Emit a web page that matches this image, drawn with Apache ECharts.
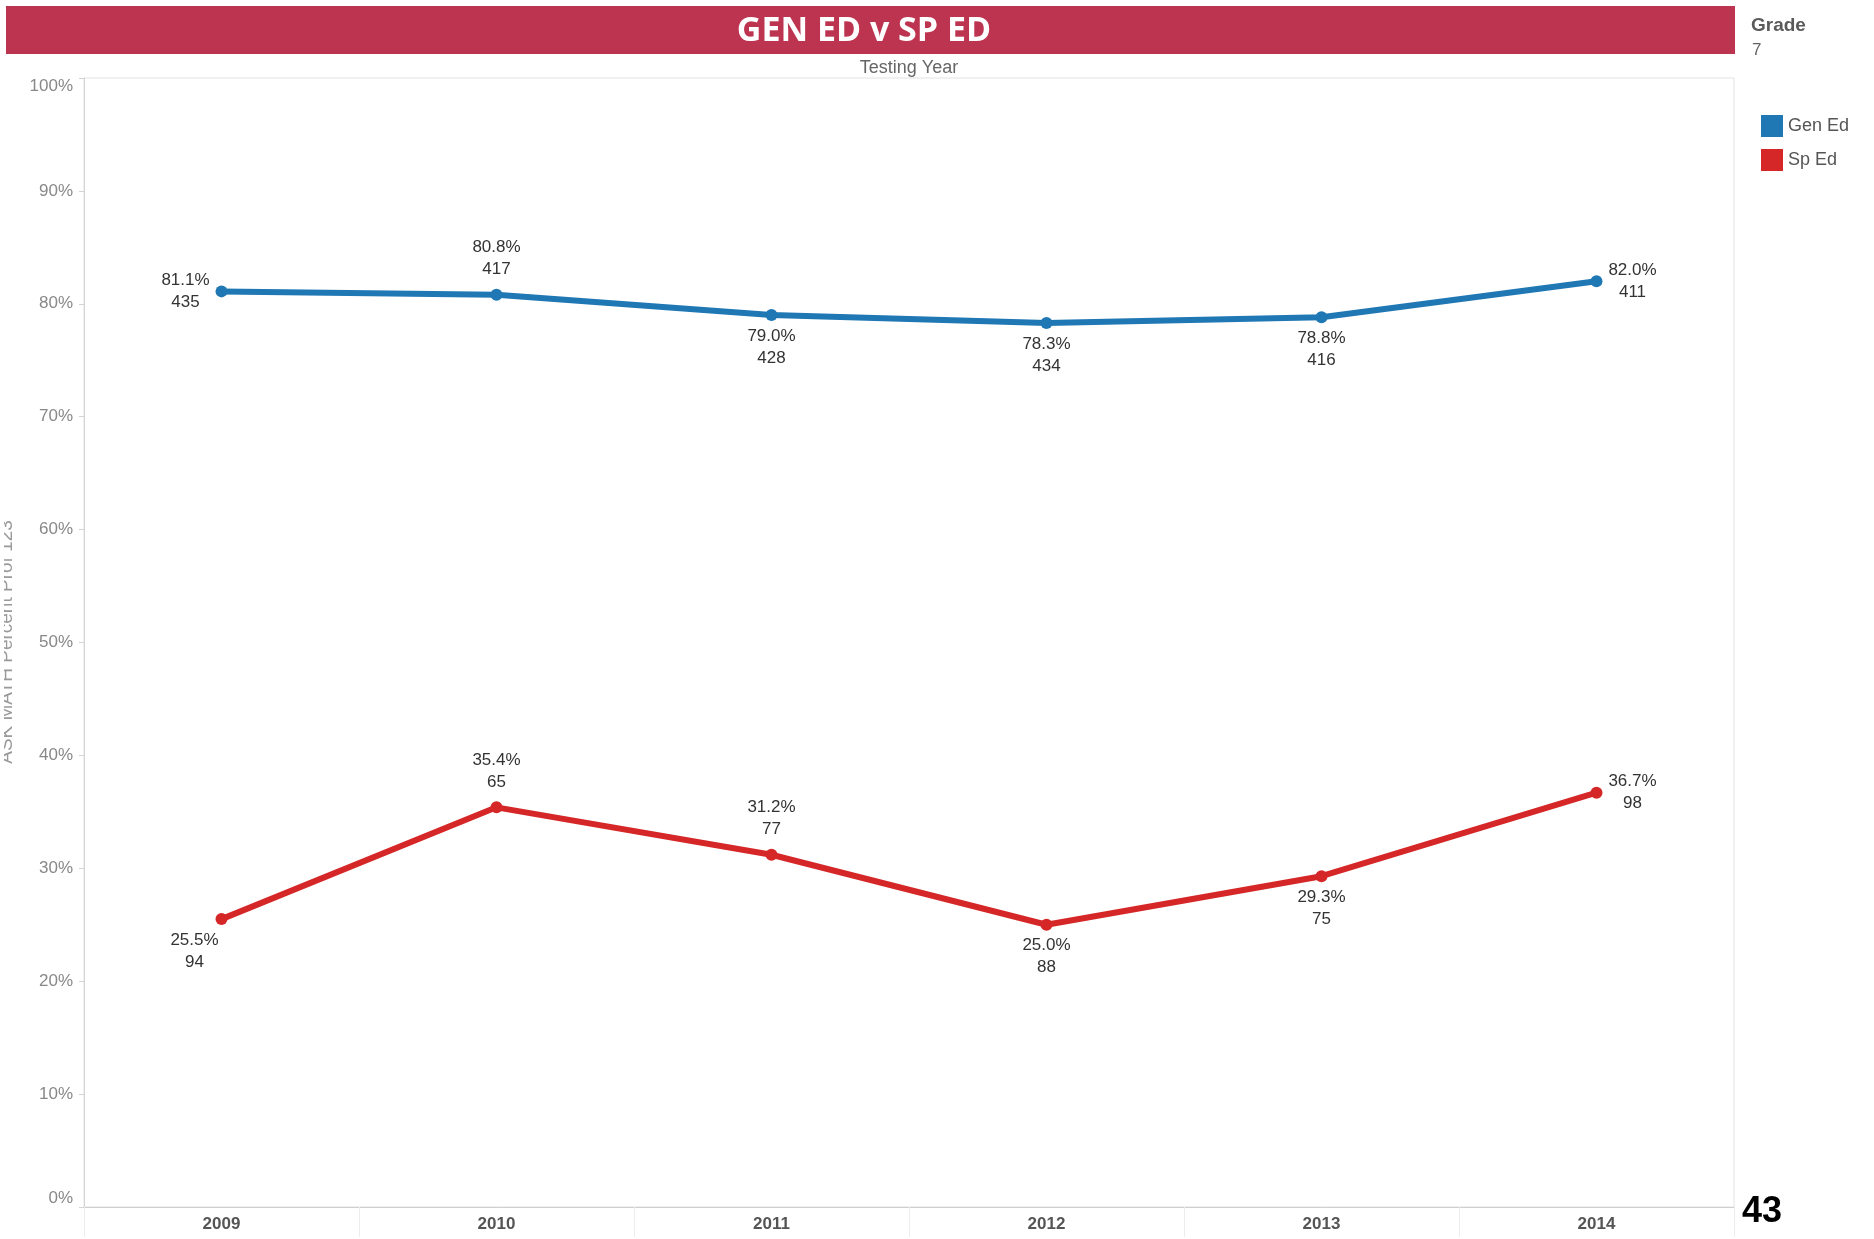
<!DOCTYPE html>
<html>
<head>
<meta charset="utf-8">
<script src="https://cdn.jsdelivr.net/npm/echarts@6/dist/echarts.min.js"></script>
<style>
html,body{margin:0;padding:0;background:#fff;}
#chart{width:1874px;height:1239px;}
</style>
</head>
<body>
<div id="chart"></div>
<script>
// ---- data ----
const years = ['2009', '2010', '2011', '2012', '2013', '2014'];
const genEdPct = [81.1, 80.8, 79.0, 78.3, 78.8, 82.0];
const genEdN = [435, 417, 428, 434, 416, 411];
const spEdPct = [25.5, 35.4, 31.2, 25.0, 29.3, 36.7];
const spEdN = [94, 65, 77, 88, 75, 98];
const yTickValues = [0, 10, 20, 30, 40, 50, 60, 70, 80, 90, 100];
const seriesNames = ['Gen Ed', 'Sp Ed'];

// ---- label placement (styling) ----
const genLabelPlace = ['left', 'top', 'bottom', 'bottom', 'bottom', 'right'];
const spLabelPlace = ['bottomleft', 'top', 'top', 'bottom', 'bottom', 'right'];

const FONT = 'Arial, "Liberation Sans", sans-serif';

function labelFor(place) {
  const base = {show: true, color: '#333', fontSize: 17, lineHeight: 22, fontFamily: FONT, align: 'center'};
  if (place === 'left') return Object.assign(base, {position: 'left', distance: 30, verticalAlign: 'middle'});
  if (place === 'right') return Object.assign(base, {position: 'right', distance: 30, verticalAlign: 'middle'});
  if (place === 'top') return Object.assign(base, {position: 'top', distance: 8});
  if (place === 'bottomleft') return Object.assign(base, {position: 'bottom', distance: 4, offset: [-27, 0]});
  return Object.assign(base, {position: 'bottom', distance: 4});
}

function buildData(pcts, ns, places) {
  return pcts.map((v, i) => ({
    value: v,
    label: Object.assign(labelFor(places[i]), {
      formatter: () => v.toFixed(1) + '%\n' + ns[i]
    })
  }));
}

const BLUE = '#1f77b4';
const RED = '#d62728';

const chart = echarts.init(document.getElementById('chart'));
chart.setOption({
  backgroundColor: '#ffffff',
  animation: false,
  grid: {left: 84, right: 140, top: 78, bottom: 32, show: true, borderColor: '#e2e2e2', borderWidth: 1},
  legend: {
    data: seriesNames,
    orient: 'vertical',
    left: 1756,
    top: 110,
    icon: 'rect',
    itemWidth: 22,
    itemHeight: 22,
    itemGap: 12,
    textStyle: {color: '#555', fontSize: 18, fontFamily: FONT}
  },
  xAxis: {
    type: 'category',
    data: years,
    boundaryGap: true,
    axisLine: {lineStyle: {color: '#cfcfcf', width: 1}},
    axisTick: {show: true, length: 30, lineStyle: {color: '#ececec'}},
    axisLabel: {color: '#555', fontSize: 17, fontWeight: 'bold', margin: 9, fontFamily: FONT},
    splitLine: {show: false}
  },
  yAxis: {
    type: 'value',
    min: yTickValues[0],
    max: yTickValues[yTickValues.length - 1],
    interval: yTickValues[1] - yTickValues[0],
    axisLine: {show: true, lineStyle: {color: '#d4d4d4'}},
    axisTick: {show: true, length: 5, lineStyle: {color: '#d4d4d4'}},
    axisLabel: {
      color: '#888', fontSize: 17, margin: 11,
      fontFamily: FONT,
      formatter: '{value}%',
      verticalAlignMaxLabel: 'top',
      verticalAlignMinLabel: 'bottom'
    },
    splitLine: {show: false}
  },
  series: [
    {
      name: seriesNames[0],
      type: 'line',
      data: buildData(genEdPct, genEdN, genLabelPlace),
      color: BLUE,
      lineStyle: {width: 6, color: BLUE},
      symbol: 'circle',
      symbolSize: 12,
      itemStyle: {color: BLUE},
      z: 3
    },
    {
      name: seriesNames[1],
      type: 'line',
      data: buildData(spEdPct, spEdN, spLabelPlace),
      color: RED,
      lineStyle: {width: 6, color: RED},
      symbol: 'circle',
      symbolSize: 12,
      itemStyle: {color: RED},
      z: 3
    }
  ],
  graphic: [
    {type: 'rect', x: 6, y: 6, shape: {width: 1729, height: 48}, style: {fill: '#bd3450'}},
    {type: 'text', x: 864, y: 31, style: {text: 'GEN ED v SP ED', fill: '#ffffff', font: 'bold 34px "Open Sans", Arial, sans-serif', textAlign: 'center', textVerticalAlign: 'middle'}},
    {type: 'text', x: 909, y: 68, style: {text: 'Testing Year', fill: '#666', font: '18px ' + FONT, textAlign: 'center', textVerticalAlign: 'middle'}},
    {type: 'text', x: 1751, y: 26, style: {text: 'Grade', fill: '#5a5a5a', font: 'bold 19px ' + FONT, textAlign: 'left', textVerticalAlign: 'middle'}},
    {type: 'text', x: 1752, y: 50, style: {text: '7', fill: '#666', font: '17px ' + FONT, textAlign: 'left', textVerticalAlign: 'middle'}},
    {type: 'text', x: 7, y: 642, rotation: Math.PI / 2, z: 1, style: {text: 'ASK MATH Percent Prof 123', fill: '#9a9a9a', font: '19px ' + FONT, textAlign: 'center', textVerticalAlign: 'middle'}},
    {type: 'rect', x: 0, y: 480, z: 2, shape: {width: 4, height: 320}, style: {fill: '#ffffff'}},
    {type: 'text', x: 1762, y: 1212, style: {text: '43', fill: '#000', font: 'bold 36px ' + FONT, textAlign: 'center', textVerticalAlign: 'middle'}}
  ]
});
</script>
</body>
</html>
